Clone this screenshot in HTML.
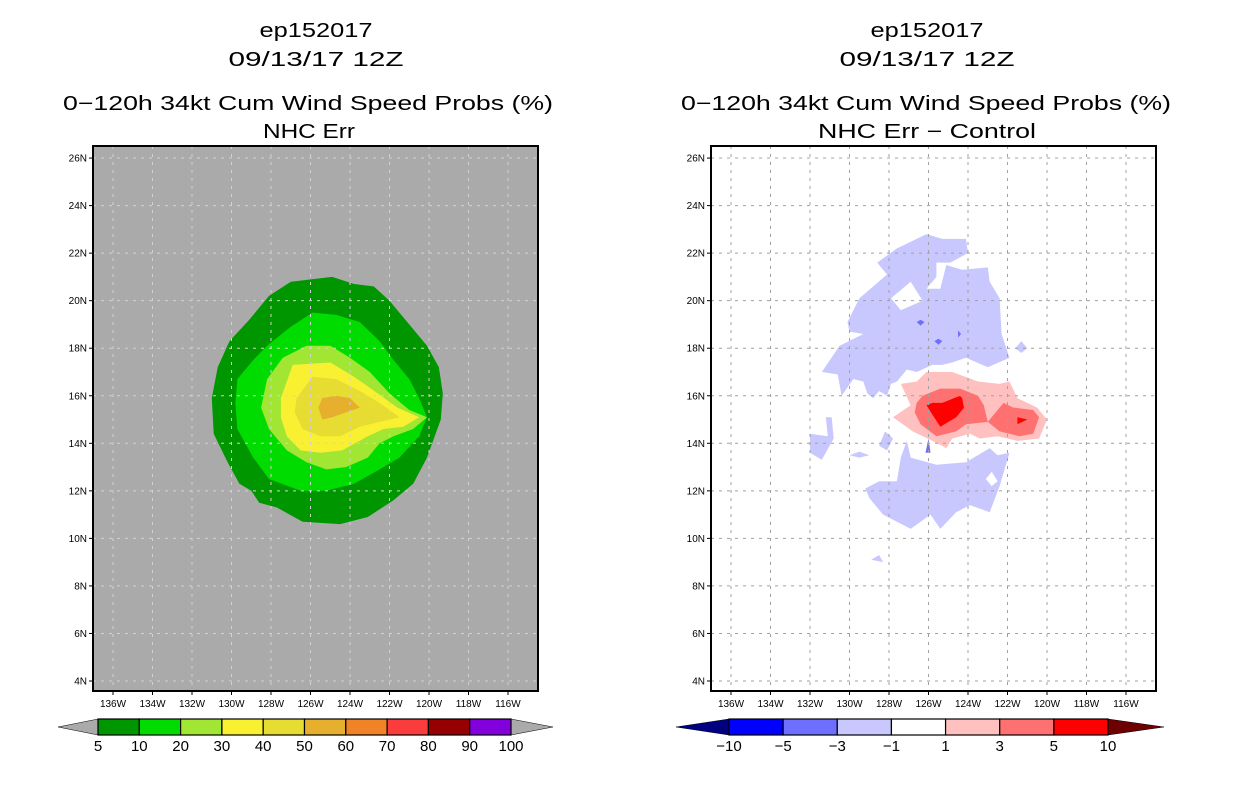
<!DOCTYPE html>
<html><head><meta charset="utf-8"><style>
html,body{margin:0;padding:0;background:#fff;}
svg{display:block;font-family:"Liberation Sans","DejaVu Sans",sans-serif;}
</style></head><body>
<svg id="chart" width="1236" height="800" viewBox="0 0 1236 800">
  <g font-size="20" fill="#000" text-anchor="middle">
    <text x="316" y="37" textLength="113" lengthAdjust="spacingAndGlyphs">ep152017</text>
    <text x="316" y="66" textLength="175" lengthAdjust="spacingAndGlyphs">09/13/17 12Z</text>
    <text x="308" y="110" textLength="490" lengthAdjust="spacingAndGlyphs">0−120h 34kt Cum Wind Speed Probs (%)</text>
    <text x="309" y="138" textLength="92" lengthAdjust="spacingAndGlyphs">NHC Err</text>
  </g>
  <g font-size="20" fill="#000" text-anchor="middle">
    <text x="927" y="37" textLength="113" lengthAdjust="spacingAndGlyphs">ep152017</text>
    <text x="927" y="66" textLength="175" lengthAdjust="spacingAndGlyphs">09/13/17 12Z</text>
    <text x="926" y="110" textLength="490" lengthAdjust="spacingAndGlyphs">0−120h 34kt Cum Wind Speed Probs (%)</text>
    <text x="927" y="138" textLength="218" lengthAdjust="spacingAndGlyphs">NHC Err − Control</text>
  </g>
  <g id="leftPanel"></g>
  <g id="rightPanel"></g>
  <g id="leftBar"></g>
  <g id="rightBar"></g>
</svg>
<script>
// ---- axes data ----
const latTicks = [26,24,22,20,18,16,14,12,10,8,6,4];
const lonTicks = [136,134,132,130,128,126,124,122,120,118,116];

// ---- left panel contour polygons [lonW, lat] ----
const prob5 = [[127.0,20.8],[124.9,21.0],[123.8,20.7],[122.8,20.6],[122.0,20.0],[121.1,19.1],[120.1,18.1],[119.5,17.2],[119.3,16.1],[119.4,15.0],[120.1,13.4],[120.8,12.3],[121.8,11.6],[123.1,10.9],[124.5,10.6],[126.4,10.7],[127.7,11.3],[128.6,11.5],[129.0,12.0],[129.6,12.3],[130.2,13.2],[130.9,14.4],[131.0,15.9],[130.7,17.2],[130.1,18.3],[129.1,19.2],[128.1,20.2]];
const prob10 = [[125.9,19.5],[124.7,19.4],[123.5,19.1],[122.5,18.3],[121.8,17.5],[121.0,16.7],[120.5,15.9],[120.1,15.1],[120.5,14.3],[121.5,13.4],[122.5,12.9],[123.8,12.3],[125.2,12.0],[126.5,12.0],[128.1,12.5],[128.9,13.4],[129.7,14.6],[129.8,15.7],[129.7,16.7],[128.9,17.5],[128.2,18.1],[127.0,18.9]];
const prob20 = [[126.2,18.1],[125.0,18.1],[124.0,17.6],[123.0,17.0],[122.0,16.1],[121.0,15.4],[120.1,15.1],[120.8,14.6],[121.8,14.3],[122.5,14.0],[123.1,13.4],[124.2,13.0],[125.2,12.9],[126.2,13.2],[127.2,13.7],[128.1,14.6],[128.5,15.5],[128.2,16.7],[127.4,17.6]];
const prob30 = [[126.9,17.3],[125.0,17.4],[123.8,16.8],[122.6,16.1],[121.6,15.5],[120.5,15.1],[121.3,14.7],[122.3,14.6],[123.1,14.3],[124.4,13.7],[125.5,13.6],[126.5,13.7],[127.2,14.3],[127.5,15.1],[127.5,15.9]];
const prob40 = [[125.9,16.8],[124.7,16.7],[123.5,16.2],[122.5,15.7],[121.5,15.1],[122.5,14.9],[123.5,14.7],[124.5,14.3],[125.5,14.3],[126.4,14.6],[126.8,15.3],[126.7,15.9]];
const prob50 = [[125.4,15.9],[124.7,16.0],[124.0,15.9],[123.5,15.5],[124.2,15.3],[124.9,15.1],[125.4,15.0],[125.6,15.5]];
const leftLevels = [prob5, prob10, prob20, prob30, prob40, prob50];

// ---- right panel difference polygons [lonW, lat] ----
const negNorth = [[128.6,21.6],[127.6,22.2],[126.1,22.8],[125.3,22.6],[124.1,22.6],[124.0,22.0],[124.9,21.6],[125.6,21.6],[125.6,21.0],[126.1,20.5],[125.4,20.5],[125.1,21.5],[124.3,21.3],[123.0,21.4],[122.9,20.8],[122.4,20.1],[122.3,18.6],[121.9,17.6],[123.0,17.2],[124.1,17.6],[124.8,17.4],[125.3,17.3],[125.8,17.3],[126.6,17.0],[127.1,17.1],[127.6,16.6],[127.9,16.5],[128.1,16.0],[128.5,16.2],[128.8,15.9],[129.1,16.1],[129.3,16.6],[129.8,16.7],[130.4,16.0],[130.6,16.9],[131.4,17.0],[130.5,18.1],[129.3,18.6],[130.0,18.7],[130.1,19.1],[129.5,20.1],[128.1,21.1]];
const negSouth = [[129.2,12.1],[128.5,12.4],[127.6,12.4],[127.4,13.4],[127.1,14.1],[126.9,13.4],[125.6,13.1],[124.1,13.2],[122.9,13.8],[122.5,13.5],[121.9,13.6],[122.4,12.2],[122.9,11.1],[123.9,11.4],[124.6,11.1],[125.4,10.4],[125.9,11.0],[126.9,10.4],[128.3,11.0],[129.0,11.7]];
const negWest = [[132.0,14.4],[131.1,14.3],[131.2,15.1],[130.9,15.1],[130.8,14.2],[131.4,13.3],[132.0,13.6]];
const negMid = [[128.2,14.5],[127.8,14.2],[128.1,13.7],[128.5,13.9]];
const negSliver = [[130.0,13.5],[129.5,13.65],[129.0,13.5],[129.5,13.4]];
const negLow = [[128.9,9.1],[128.5,9.3],[128.3,9.0]];
const negEast = [[121.6,18.0],[121.3,18.3],[121.0,18.0],[121.3,17.8]];
const holeNorth = [[127.9,20.1],[126.9,20.8],[126.3,20.0],[127.4,19.6]];
const holeSouth = [[123.1,12.5],[122.8,12.8],[122.5,12.4],[122.8,12.2]];
const neg3a = [[126.4,19.2],[126.2,19.1],[126.4,18.95],[126.6,19.1]];
const neg3b = [[125.5,18.4],[125.3,18.3],[125.5,18.15],[125.7,18.3]];
const neg3c = [[124.5,18.75],[124.35,18.6],[124.5,18.45]];
const neg3d = [[126.0,14.2],[125.9,13.6],[126.15,13.6]];
const pos1 = [[127.4,16.5],[126.6,16.6],[126.1,17.0],[124.8,17.0],[123.5,16.6],[122.4,16.5],[121.9,16.6],[121.5,15.9],[120.5,15.5],[120.0,15.0],[120.4,14.2],[121.5,14.1],[122.5,14.3],[123.4,14.2],[123.9,14.4],[124.8,14.2],[125.1,13.8],[125.8,14.1],[126.8,14.5],[127.8,15.1],[126.9,15.6]];
const pos3 = [[126.3,16.0],[125.4,16.3],[124.4,16.3],[123.5,16.0],[123.2,15.6],[123.0,14.9],[122.2,15.7],[121.7,15.5],[120.7,15.4],[120.4,15.1],[120.7,14.4],[121.4,14.3],[122.4,14.5],[123.0,14.9],[124.1,14.8],[124.6,14.5],[125.6,14.3],[126.4,14.8],[126.7,15.3],[126.6,15.7]];
const pos5a = [[126.1,15.6],[125.8,15.7],[125.3,15.7],[124.4,16.0],[124.3,15.9],[124.2,15.5],[124.6,15.1],[125.4,14.7],[125.8,15.2]];
const pos5b = [[121.5,15.1],[121.0,15.0],[121.5,14.8]];

const leftColors = ['#009600','#00dc00','#a0e632','#faf032','#e6dc32','#e6af2d','#f08228','#fa3c3c','#960000','#8200dc'];
const leftLabels = ['5','10','20','30','40','50','60','70','80','90','100'];
const rightColors = ['#0000ff','#6e6eff','#c8c8ff','#ffffff','#ffc0c0','#ff7070','#ff0000'];
const rightLabels = ['−10','−5','−3','−1','1','3','5','10'];

const NS='http://www.w3.org/2000/svg';
function mk(tag, attrs, parent){const e=document.createElementNS(NS,tag);for(const k in attrs)e.setAttribute(k,attrs[k]);parent.appendChild(e);return e;}
const FRAME={top:146,bottom:691,left:93,right:538};
function xS(lonW,off){return 113+(136-lonW)*19.75+off;}
function yS(lat){return 681-(lat-4)*23.77;}
function pts(poly,off){return poly.map(p=>xS(p[0],off).toFixed(1)+','+yS(p[1]).toFixed(1)).join(' ');}

function drawPanel(g,off,bg,gridColor){
  const clipId='clip'+off;
  const defs=mk('defs',{},g);
  const cp=mk('clipPath',{id:clipId},defs);
  mk('rect',{x:FRAME.left+off,y:FRAME.top,width:FRAME.right-FRAME.left,height:FRAME.bottom-FRAME.top},cp);
  const bgr=mk('rect',{x:FRAME.left+off,y:FRAME.top,width:FRAME.right-FRAME.left,height:FRAME.bottom-FRAME.top,fill:bg},g);
  
  
  const content=mk('g',{'clip-path':'url(#'+clipId+')'},g);
  
  
  return content;
}
function drawGrid(g,off,gridColor){
  const grid=mk('g',{stroke:gridColor,'stroke-width':1,'stroke-dasharray':'3,5'},g);
  
  
  latTicks.forEach(v=>{const y=yS(v);mk('line',{x1:FRAME.left+off,x2:FRAME.right+off,y1:y,y2:y},grid);});
  lonTicks.forEach(v=>{const x=xS(v,off);mk('line',{x1:x,x2:x,y1:FRAME.top,y2:FRAME.bottom},grid);});
  const fr=mk('rect',{x:FRAME.left+off,y:FRAME.top,width:FRAME.right-FRAME.left,height:FRAME.bottom-FRAME.top,fill:'none',stroke:'#000','stroke-width':2},g);
  
  
  const ax=mk('g',{'font-size':10,fill:'#000'},g);
  
  
  latTicks.forEach(v=>{const y=yS(v);
    mk('line',{x1:FRAME.left+off-4,x2:FRAME.left+off,y1:y,y2:y,stroke:'#000'},ax);
    const t=mk('text',{x:FRAME.left+off-6,y:y+3.5,'text-anchor':'end'},ax);t.textContent=v+'N';
    
    
  });
  lonTicks.forEach(v=>{const x=xS(v,off);
    mk('line',{x1:x,x2:x,y1:FRAME.bottom,y2:FRAME.bottom+4,stroke:'#000'},ax);
    const t=mk('text',{x:x,y:FRAME.bottom+16,'text-anchor':'middle'},ax);t.textContent=v+'W';
    
    
  });
}
function poly(g,data,off,color,name){
  const p=mk('polygon',{points:pts(data,off),fill:color},g);
  
  
}

// left panel
const L=document.getElementById('leftPanel');
const lc=drawPanel(L,0,'#aaaaaa');
leftLevels.forEach((lv,i)=>poly(lc,lv,0,leftColors[i],'prob-contour-'+leftLabels[i]));
drawGrid(L,0,'#d2d2d2');

// right panel
const R=document.getElementById('rightPanel');
const ROFF=618;
const rc=drawPanel(R,ROFF,'#ffffff');
[negNorth,negSouth,negWest,negMid,negSliver,negLow,negEast].forEach(p=>poly(rc,p,ROFF,rightColors[2],'diff-contour-neg1'));
[holeNorth,holeSouth].forEach(p=>poly(rc,p,ROFF,'#ffffff','diff-hole'));
[neg3a,neg3b,neg3c,neg3d].forEach(p=>poly(rc,p,ROFF,rightColors[1],'diff-contour-neg3'));
poly(rc,pos1,ROFF,rightColors[4],'diff-contour-pos1');
poly(rc,pos3,ROFF,rightColors[5],'diff-contour-pos3');
[pos5a,pos5b].forEach(p=>poly(rc,p,ROFF,rightColors[6],'diff-contour-pos5'));
drawGrid(R,ROFF,'#a0a0a0');

// colorbars
function colorbar(g,x0,x1,tipL,tipR,colors,labels,leftArrow,rightArrow){
  const y0=719,y1=735,ym=(y0+y1)/2,w=(x1-x0)/colors.length;
  const la=mk('polygon',{points:`${tipL},${ym} ${x0},${y0} ${x0},${y1}`,fill:leftArrow,stroke:'#000','stroke-width':0.5},g);
  
  
  const ra=mk('polygon',{points:`${tipR},${ym} ${x1},${y0} ${x1},${y1}`,fill:rightArrow,stroke:'#000','stroke-width':0.5},g);
  
  
  colors.forEach((c,i)=>{
    const r=mk('rect',{x:x0+i*w,y:y0,width:w,height:y1-y0,fill:c,stroke:'#000','stroke-width':1.2},g);
    
    
  });
  labels.forEach((l,i)=>{
    const t=mk('text',{x:x0+i*w,y:751,'font-size':15,'text-anchor':'middle',fill:'#000'},g);
    t.textContent=l;
    
    
  });
}
colorbar(document.getElementById('leftBar'),98,511,58,553,leftColors,leftLabels,'#aaaaaa','#aaaaaa');
colorbar(document.getElementById('rightBar'),729,1108,676,1164,rightColors,rightLabels,'#000080','#6e0000');
</script>
</body></html>
